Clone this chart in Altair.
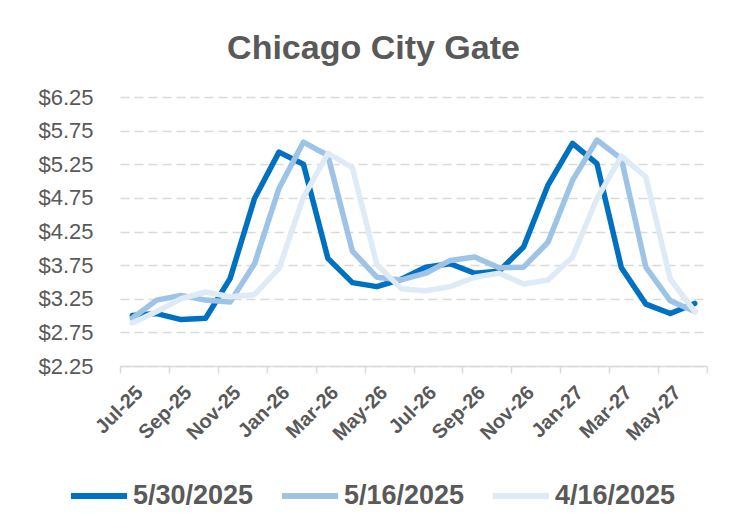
import json
import altair as alt
import pandas as pd

months = ["Jul-25", "Aug-25", "Sep-25", "Oct-25", "Nov-25", "Dec-25",
          "Jan-26", "Feb-26", "Mar-26", "Apr-26", "May-26", "Jun-26",
          "Jul-26", "Aug-26", "Sep-26", "Oct-26", "Nov-26", "Dec-26",
          "Jan-27", "Feb-27", "Mar-27", "Apr-27", "May-27", "Jun-27"]

series_names = ["5/30/2025", "5/16/2025", "4/16/2025"]

s_0530 = [3.00, 3.03, 2.94, 2.96, 3.55, 4.74, 5.43, 5.25, 3.85, 3.49, 3.43, 3.54,
          3.72, 3.77, 3.63, 3.66, 4.02, 4.94, 5.56, 5.26, 3.71, 3.17, 3.03, 3.18]
s_0516 = [2.96, 3.23, 3.30, 3.23, 3.20, 3.77, 4.89, 5.58, 5.38, 3.96, 3.57, 3.53,
          3.63, 3.82, 3.87, 3.71, 3.72, 4.09, 5.01, 5.61, 5.33, 3.72, 3.22, 3.06]
s_0416 = [2.89, 3.06, 3.25, 3.35, 3.28, 3.31, 3.70, 4.76, 5.41, 5.20, 3.76, 3.40,
          3.37, 3.43, 3.57, 3.63, 3.47, 3.53, 3.87, 4.74, 5.37, 5.06, 3.54, 3.06]

y_ticks = [2.25, 2.75, 3.25, 3.75, 4.25, 4.75, 5.25, 5.75, 6.25]
colors = ["#0070c0", "#9dc3e6", "#deebf7"]

rows = []
for name, vals in zip(series_names, [s_0530, s_0516, s_0416]):
    for i, (m, v) in enumerate(zip(months, vals)):
        rows.append({"idx": i, "month": m, "series": name, "value": v})
df = pd.DataFrame(rows)

n = len(months)
tick_vals = [-0.5 + 2 * k for k in range(n // 2 + 1)]
label_list = json.dumps(months[::2]).replace('"', "'")
label_expr = f"datum.value > {n - 1} ? '' : {label_list}[round((datum.value + 0.5) / 2)]"

W, H = 587, 269
step = W / n

FONT = "Liberation Sans"
GREY = "#595959"

x_enc = alt.X(
    "idx:Q",
    scale=alt.Scale(domain=[-0.5, n - 0.5], nice=False, zero=False),
    axis=alt.Axis(
        values=tick_vals, labelExpr=label_expr, labelOffset=step / 2,
        labelAngle=-45, labelAlign="right", labelBaseline="top",
        labelFont=FONT, labelFontSize=20, labelFontWeight="bold", labelColor=GREY,
        labelPadding=9, labelFlush=False, labelOverlap=False, labelBound=False,
        domainColor="#d9d9d9", domainWidth=1.5,
        tickColor="#d9d9d9", tickWidth=1.5, tickSize=7,
        grid=False, title=None,
    ),
)
y_enc = alt.Y(
    "value:Q",
    scale=alt.Scale(domain=[2.25, 6.25], nice=False, zero=False),
    axis=alt.Axis(
        values=y_ticks, format="$.2f", labelFont=FONT, labelFontSize=22,
        labelColor=GREY, labelPadding=27, ticks=False, tickSize=0, domain=False,
        gridColor="#d9d9d9", gridDash=[9, 5], gridWidth=1.5, labelFlush=False,
        title=None,
    ),
)
color_enc = alt.Color(
    "series:N",
    scale=alt.Scale(domain=series_names, range=colors),
    legend=alt.Legend(
        title=None, orient="none", direction="horizontal",
        legendX=-52, legendY=368, symbolType="stroke", symbolSize=3136,
        symbolStrokeWidth=6, labelFont=FONT, labelFontSize=27,
        labelFontWeight="bold", labelColor=GREY, labelOffset=3,
        columnPadding=16, padding=0,
    ),
)

layers = []
for name in series_names:
    layers.append(
        alt.Chart(df)
        .transform_filter(alt.datum.series == name)
        .mark_line(strokeWidth=5.5, strokeJoin="round", strokeCap="round")
        .encode(x=x_enc, y=y_enc, color=color_enc)
    )

chart = (
    alt.layer(*layers)
    .properties(
        width=W, height=H,
        title=alt.TitleParams(
            text="Chicago City Gate", font=FONT, fontSize=34, fontWeight="bold",
            color=GREY, anchor="middle", frame="group", dx=-40, dy=36, offset=29,
            baseline="alphabetic",
        ),
        autosize=alt.AutoSizeParams(type="none"),
        padding={"left": 112, "top": 89, "right": 26, "bottom": 155},
        background="white",
    )
    .configure_view(stroke="transparent")
)

chart.save("out.html", embed_options={"renderer": "svg", "actions": False})
